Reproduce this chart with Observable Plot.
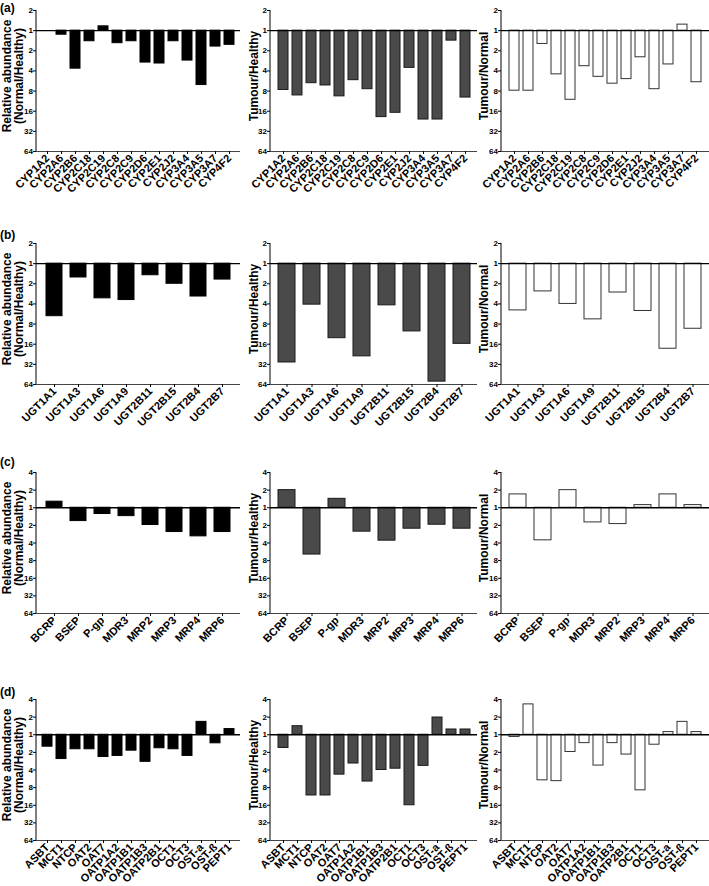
<!DOCTYPE html>
<html><head><meta charset="utf-8">
<script src="https://cdn.jsdelivr.net/npm/d3@7"></script>
<script src="https://cdn.jsdelivr.net/npm/@observablehq/plot@0.6"></script>
<style>
body{margin:0;background:#fff;}
#fig{position:relative;width:709px;height:886px;overflow:hidden;font-family:"Liberation Sans",Arial,sans-serif;color:#000;}
.panel{position:absolute;}
.panel svg{overflow:visible;}
.tag{position:absolute;font-weight:bold;font-size:12px;line-height:12px;z-index:5;}
</style></head><body><div id="fig"></div>
<script>
// Categories
const cypGenes = ["CYP1A2","CYP2A6","CYP2B6","CYP2C18","CYP2C19","CYP2C8","CYP2C9","CYP2D6","CYP2E1","CYP2J2","CYP3A4","CYP3A5","CYP3A7","CYP4F2"];
const ugtGenes = ["UGT1A1","UGT1A3","UGT1A6","UGT1A9","UGT2B11","UGT2B15","UGT2B4","UGT2B7"];
const effluxGenes = ["BCRP","BSEP","P-gp","MDR3","MRP2","MRP3","MRP4","MRP6"];
const uptakeGenes = ["ASBT","MCT1","NTCP","OAT2","OAT7","OATP1A2","OATP1B1","OATP1B3","OATP2B1","OCT1","OCT3","OST-a","OST-ß","PEPT1"];

// Signed fold change: negative = n-fold lower, positive = n-fold higher
const cypNormalHealthy = [1, -1.15, -3.7, -1.44, 1.16, -1.54, -1.44, -3.0, -3.1, -1.44, -2.8, -6.5, -1.73, -1.63];
const cypTumourHealthy = [-7.7, -9.3, -6.1, -6.6, -9.6, -5.5, -7.5, -19.6, -16.9, -3.6, -21.3, -21.3, -1.41, -10];
const cypTumourNormal = [-7.9, -7.9, -1.58, -4.5, -10.8, -3.4, -4.9, -6.2, -5.3, -2.5, -7.5, -3.2, 1.23, -5.9];

const ugtNormalHealthy = [-6.1, -1.61, -3.3, -3.5, -1.49, -2.0, -3.1, -1.73];
const ugtTumourHealthy = [-30, -4.1, -13, -24.3, -4.2, -10.3, -58, -15.8];
const ugtTumourNormal = [-5.0, -2.6, -4.0, -6.8, -2.7, -5.1, -18.7, -9.4];

const effluxNormalHealthy = [1.27, -1.69, -1.28, -1.39, -1.97, -2.6, -3.08, -2.6];
const effluxTumourHealthy = [2.0, -6.3, 1.42, -2.56, -3.65, -2.28, -1.95, -2.28];
const effluxTumourNormal = [1.69, -3.6, 2.0, -1.78, -1.9, 1.11, 1.69, 1.11];

const uptakeNormalHealthy = [-1.6, -2.6, -1.77, -1.77, -2.4, -2.3, -1.87, -2.9, -1.7, -1.77, -2.3, 1.66, -1.4, 1.25];
const uptakeTumourHealthy = [-1.68, 1.4, -10.9, -10.9, -4.8, -3.1, -6.3, -4.0, -3.8, -16, -3.4, 1.97, 1.23, 1.23];
const uptakeTumourNormal = [-1.09, 3.3, -6.0, -6.2, -1.97, -1.39, -3.36, -1.39, -2.18, -8.9, -1.48, 1.11, 1.66, 1.11];

// Tick values (as ratios) for the two axis ranges
const yTicksTo2 = [2, 1, 1/2, 1/4, 1/8, 1/16, 1/32, 1/64];
const yTicksTo4 = [4, 2, 1, 1/2, 1/4, 1/8, 1/16, 1/32, 1/64];

const titles = [["Relative abundance", "(Normal/Healthy)"], ["Tumour/Healthy"], ["Tumour/Normal"]];
const rowTags = ["(a)", "(b)", "(c)", "(d)"];

const toRatio = v => v < 0 ? -1 / v : v;
const foldFmt = d => d >= 1 ? String(d) : String(Math.round(1 / d));

const rows = [
  {genes: cypGenes, series: [cypNormalHealthy, cypTumourHealthy, cypTumourNormal], ticks: yTicksTo2, top: 0, tagY: 2, mb: 62},
  {genes: ugtGenes, series: [ugtNormalHealthy, ugtTumourHealthy, ugtTumourNormal], ticks: yTicksTo2, top: 233, tagY: 229, mb: 60},
  {genes: effluxGenes, series: [effluxNormalHealthy, effluxTumourHealthy, effluxTumourNormal], ticks: yTicksTo4, top: 462, tagY: 456, mb: 60},
  {genes: uptakeGenes, series: [uptakeNormalHealthy, uptakeTumourHealthy, uptakeTumourNormal], ticks: yTicksTo4, top: 689, tagY: 686, mb: 45}
];
const cols = [
  {left: 0, width: 240, ml: 36, fill: "#000", stroke: "#000", t: [-29.5, -17]},
  {left: 240, width: 237, ml: 30, fill: "#4a4a4a", stroke: "#1a1a1a", t: [-16]},
  {left: 470, width: 239, ml: 31, fill: "#fff", stroke: "#333", t: [-17]}
];

function leftLine(index, scales, values, dims) {
  return d3.create("svg:line")
    .attr("x1", dims.marginLeft).attr("x2", dims.marginLeft)
    .attr("y1", dims.marginTop).attr("y2", dims.height - dims.marginBottom)
    .attr("stroke", "#000").attr("stroke-width", 1).node();
}

const fig = document.getElementById("fig");
rows.forEach((row, ri) => {
  cols.forEach((col, ci) => {
    const data = row.genes.map((g, i) => ({gene: g, ratio: toRatio(row.series[ci][i])}));
    const plotH = 141;
    const titleMarks = titles[ci].map((t, k) =>
      Plot.text([t], {frameAnchor: "left", rotate: -90, dx: col.t[k], dy: -5, textAnchor: "middle", lineAnchor: "middle", fontSize: 12, fontWeight: "bold", fill: "#000"}));
    const chart = Plot.plot({
      width: col.width, height: 10 + plotH + row.mb,
      marginLeft: col.ml, marginRight: 0, marginTop: 10, marginBottom: row.mb,
      style: {fontFamily: "'Liberation Sans', Arial, sans-serif", fontWeight: "bold", background: "transparent", color: "#000", overflow: "visible"},
      x: {domain: row.genes, paddingInner: 0.32, paddingOuter: 0.25, label: null},
      y: {type: "log", base: 2, domain: [1/64, row.ticks[0]], label: null},
      marks: [
        Plot.barY(data, {x: "gene", y1: 1, y2: "ratio", fill: col.fill, stroke: col.stroke, strokeWidth: 1}),
        Plot.ruleY([1], {stroke: "#000", strokeWidth: 1.3}),
        Plot.ruleY([1/64], {stroke: "#444", strokeWidth: 1}),
        Plot.axisY({ticks: row.ticks, tickFormat: foldFmt, tickSize: 3, tickPadding: 0.5, fontSize: 8, label: null}),
        Plot.axisX({tickRotate: -45, tickSize: 3, tickPadding: 2, fontSize: 11, label: null}),
        leftLine,
        ...titleMarks
      ]
    });
    const div = document.createElement("div");
    div.className = "panel";
    div.style.left = col.left + "px"; div.style.top = row.top + "px";
    div.appendChild(chart);
    fig.appendChild(div);
  });
  const tag = document.createElement("div");
  tag.className = "tag"; tag.textContent = rowTags[ri];
  tag.style.left = "0px"; tag.style.top = row.tagY + "px";
  fig.appendChild(tag);
});
</script></body></html>
